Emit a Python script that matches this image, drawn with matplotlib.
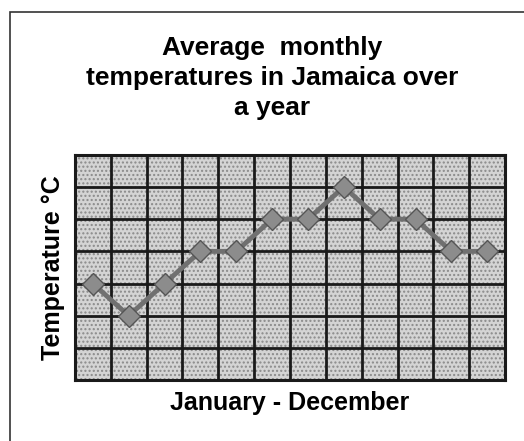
import numpy as np
import matplotlib
matplotlib.use("Agg")
import matplotlib.pyplot as plt
from matplotlib.patches import Rectangle

# Datos: temperatura media mensual (unidades de la rejilla, sin escala en el eje)
meses = ["Ene", "Feb", "Mar", "Abr", "May", "Jun", "Jul", "Ago", "Sep", "Oct", "Nov", "Dic"]
temperatura = [25, 24, 25, 26, 26, 27, 27, 28, 27, 27, 26, 26]
y_min, y_max = 22, 29

titulo = "Average  monthly\ntemperatures in Jamaica over\na year"
etiqueta_x = "January - December"
etiqueta_y = "Temperature °C"

plt.rcParams['font.family'] = ['Liberation Sans', 'DejaVu Sans']

fig = plt.figure(figsize=(5.24, 4.41), dpi=100)
ax = fig.add_axes([0.143, 0.138, 0.821, 0.511])

# Marco exterior de la figura
fig.patches.append(Rectangle((0.019, -0.05), 1.2, 1.023, transform=fig.transFigure,
                             fill=False, edgecolor="#333333", linewidth=1.2))

x = np.arange(len(meses))
ax.set_xlim(-0.5, len(meses) - 0.5)
ax.set_ylim(y_min, y_max)

# Fondo punteado de las celdas
ax.set_facecolor("#d4d4d4")
ax.add_patch(Rectangle((0, 0), 1, 1, transform=ax.transAxes, facecolor="none",
                       edgecolor="#8a8a8a", hatch="....", linewidth=0, zorder=0.5))

# Rejilla
ax.set_xticks(np.arange(-0.5, len(meses), 1))
ax.set_yticks(np.arange(y_min, y_max + 1, 1))
ax.grid(True, color="#1a1a1a", linewidth=2)
ax.tick_params(length=0, labelbottom=False, labelleft=False)
for s in ax.spines.values():
    s.set_linewidth(2.2)
    s.set_color("#1a1a1a")

ax.plot(x, temperatura, color="#707070", linewidth=3.5, marker="D", markersize=11,
        markerfacecolor="#8c8c8c", markeredgecolor="#555555", zorder=3)

fig.text(0.519, 1 - 78 / 441, titulo, ha="center", va="center", fontsize=19,
         fontweight="bold", linespacing=1.33)
ax.set_xlabel(etiqueta_x, fontsize=18, fontweight="bold", va="center")
ax.xaxis.set_label_coords(0.5, -0.102)
ax.set_ylabel(etiqueta_y, fontsize=18, fontweight="bold", va="center")
ax.yaxis.set_label_coords(-0.051, 0.5)

fig.savefig("out.png", dpi=100, facecolor="white")
